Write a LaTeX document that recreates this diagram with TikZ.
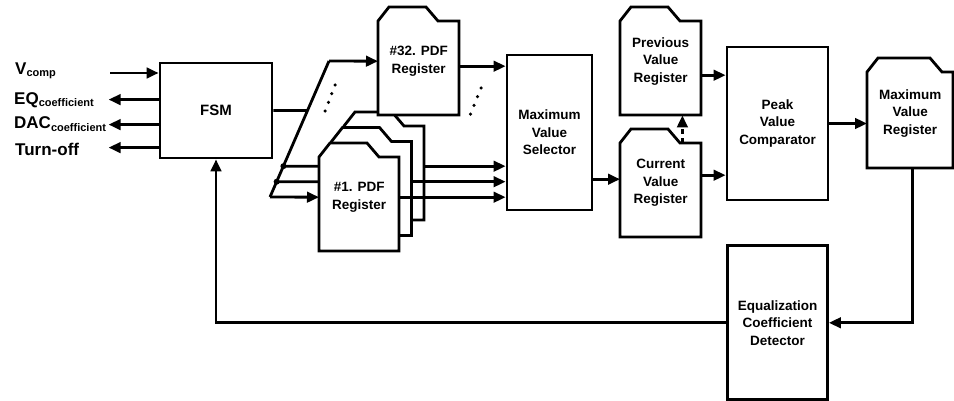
\documentclass[tikz,border=0pt]{standalone}
\usepackage{fontspec}
\setmainfont{Liberation Sans}
\usepackage{tikz}
\usetikzlibrary{arrows.meta, positioning, calc, backgrounds}
\tikzset{
  blockbox/.style={rectangle, draw, line width=2.8pt, inner sep=0pt, font=\fontsize{13.5}{17.5}\selectfont\bfseries, align=center},
  regtext/.style={rectangle, inner sep=0pt, anchor=north west, font=\fontsize{13.5}{17.5}\selectfont\bfseries, align=center},
  regline/.style={draw, line width=2.8pt, fill=white},
  wire/.style={line width=2.8pt},
  arrow/.style={->, >={Triangle[length=12pt, width=10.5pt]}, line width=2.8pt},
  dashedarrow/.style={arrow, dash pattern=on 5pt off 4pt},
  sidelabel/.style={anchor=west, inner sep=0pt, font=\fontsize{17}{20}\selectfont\bfseries},
  fandot/.style={circle, fill, inner sep=0pt, minimum size=3.5pt}
}
\newcommand{\lowsub}[1]{\raisebox{-2.5pt}{\fontsize{11}{11}\selectfont #1}}
% folder shaped register: [shoulder] name, x, y (top), width, height, text
\newcommand{\docreg}[7][48]{%
  \path[regline] (#3,#4+14) -- (#3+11,#4) -- (#3+#1,#4) -- (#3+#1+12,#4+14)
    -- (#3+#5,#4+14) -- (#3+#5,#4+#6) -- (#3,#4+#6) -- cycle;
  \node[regtext, minimum width=#5pt, minimum height=#6pt] (#2) at (#3,#4) {#7};
}

\begin{document}
\begin{tikzpicture}[x=1pt, y=-1pt]
  \useasboundingbox (0,0) rectangle (954,401);

  % Blocks
  \node[blockbox, minimum width=112pt, minimum height=95pt, font=\fontsize{15}{18}\selectfont\bfseries] (fsm) at (216,110.5) {FSM};
  \node[blockbox, minimum width=85pt, minimum height=155pt] (sel) at (549.5,132.5) {Maximum\\Value\\Selector};
  \node[blockbox, minimum width=101pt, minimum height=153pt] (peak) at (777.5,123.5) {Peak\\Value\\Comparator};
  \node[blockbox, minimum width=100pt, minimum height=154pt, below=43pt of peak] (det) {Equalization\\Coefficient\\Detector};

  % Registers
  \docreg{reg3}{344}{112}{80}{108}{}
  \docreg{reg2}{331.5}{127.5}{80}{108}{}
  \docreg{reg1}{319}{143}{80}{108}{\#1. PDF\\Register}
  \docreg{reg32}{378}{7}{81}{108}{\#32. PDF\\Register}
  \docreg{prev}{620}{7}{81}{108}{Previous\\Value\\Register}
  \docreg{curr}{620}{129}{81}{108}{Current\\Value\\Register}
  \docreg[63]{maxreg}{867}{58}{86}{110}{Maximum\\Value\\Register}

  % FSM ports
  \node[sidelabel] (vcomp) at (15,71) {V\lowsub{comp}};
  \node[sidelabel] (eqc) at (14,100) {EQ\lowsub{coefficient}};
  \node[sidelabel] (dacc) at (14,124) {DAC\lowsub{coefficient}};
  \node[sidelabel] (toff) at (15,149) {Turn-off};
  \coordinate (vin) at (110,73);
  \draw[arrow] (vin) -- (vin -| fsm.west);
  \foreach \yy/\nm in {38/eqout, 63/dacout, 86/offout}
    \draw[arrow] ([yshift=-\yy pt]fsm.north west) -- ++(-50,0) coordinate (\nm);

  % Fan out to the PDF registers
  \coordinate (fanbot) at (270,197);
  \coordinate (fantop) at (329,61);
  \coordinate (fanfsm) at (intersection of fanbot--fantop and fsm.west--fsm.east);
  \coordinate (fan3) at (intersection of fanbot--fantop and reg3.west--reg3.east);
  \coordinate (fan2) at (intersection of fanbot--fantop and reg2.west--reg2.east);
  \draw[wire] (fsm.east) -- (fanfsm);
  \draw[wire] (fanbot) -- (fantop);
  \draw[arrow] (fantop) -- (reg32.west);
  \draw[arrow] (fanbot) -- (reg1.west);
  \begin{scope}[on background layer]
    \draw[wire] (fan3) -- (reg3.west);
    \draw[wire] (fan2) -- (reg2.west);
  \end{scope}
  \fill (fan3) circle (3pt);
  \fill (fan2) circle (3pt);
  \foreach \k in {0,...,3} {
    \node[fandot] (ldot\k) at (335-3.3*\k, 85+8.7*\k) {};
    \node[fandot] (rdot\k) at (481-3.5*\k, 88+8.7*\k) {};
  }

  % Into the selector
  \draw[arrow] ($(reg32.east)+(0,5)$) -- ($(sel.west |- reg32.east)+(0,5)$);
  \foreach \r in {reg3, reg2, reg1}
    \draw[arrow] (\r.east) -- (sel.west |- \r.east);

  % Value registers and comparator
  \draw[arrow] ($(sel.east |- curr.west)+(0,-4)$) -- ($(curr.west)+(0,-4)$);
  \draw[dashedarrow] ($(curr.north east)+(-19,14)$) -- ($(prev.south east)+(-19,0)$);
  \draw[arrow] ($(prev.east)+(0,14)$) -- ($(peak.west |- prev.east)+(0,14)$);
  \draw[arrow] ($(curr.east)+(0,-8)$) -- ($(peak.west |- curr.east)+(0,-8)$);
  \draw[arrow] (peak.east) -- (peak.east -| maxreg.west);

  % Feedback
  \draw[arrow] ($(maxreg.south)+(2,0)$) |- (det.east);
  \draw[arrow] (det.west) -| (fsm.south);
\end{tikzpicture}
\end{document}
